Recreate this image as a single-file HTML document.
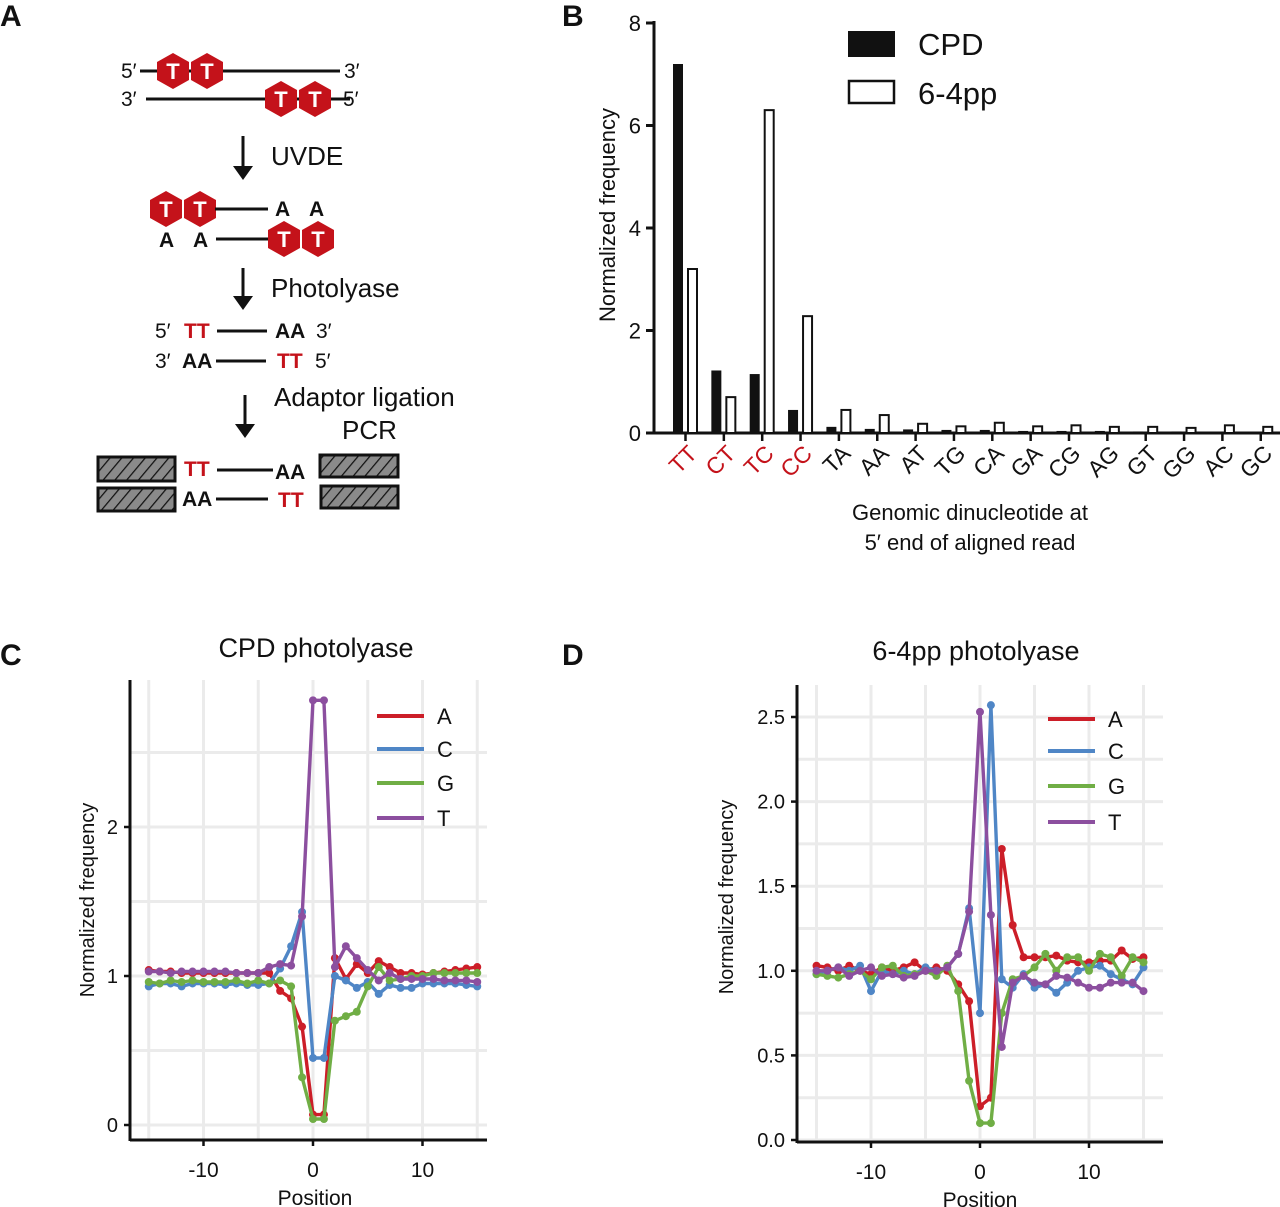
<!DOCTYPE html>
<html><head><meta charset="utf-8"><style>
body{margin:0;background:#fff}
svg{display:block;font-family:"Liberation Sans",Arial,sans-serif}
</style></head><body>
<svg id="fig" width="1280" height="1207" viewBox="0 0 1280 1207" xmlns="http://www.w3.org/2000/svg">
<defs>
<pattern id="hatch" width="9" height="9" patternUnits="userSpaceOnUse" patternTransform="rotate(40)">
<rect width="9" height="9" fill="#8a8a8a"/><line x1="0" y1="0" x2="0" y2="9" stroke="#111" stroke-width="2.5"/>
</pattern>
<symbol id="hex" viewBox="-17 -18 34 36"><polygon points="0,-18 16,-9 16,9 0,18 -16,9 -16,-9" fill="#c4121a"/><text x="0" y="8" text-anchor="middle" font-size="22" font-weight="bold" fill="#fff">T</text></symbol>
</defs>
<g font-weight="bold" font-size="30" fill="#111">
<text x="0" y="26">A</text>
<text x="562" y="26">B</text>
<text x="0" y="665">C</text>
<text x="562" y="665">D</text>
</g>
<g id="panelA" fill="#111" font-size="21">
<line x1="140" y1="71" x2="340" y2="71" stroke="#111" stroke-width="3"/>
<text x="121" y="78">5′</text><text x="344" y="78">3′</text>
<use href="#hex" x="156" y="53" width="34" height="36"/><use href="#hex" x="190" y="53" width="34" height="36"/>
<line x1="146" y1="99" x2="350" y2="99" stroke="#111" stroke-width="3"/>
<text x="121" y="106">3′</text><text x="343" y="106">5′</text>
<use href="#hex" x="264" y="81" width="34" height="36"/><use href="#hex" x="298" y="81" width="34" height="36"/>
<g><line x1="243" y1="136" x2="243" y2="172" stroke="#111" stroke-width="3"/><polygon points="233,166 253,166 243,180" fill="#111"/></g>
<text x="271" y="165" font-size="26">UVDE</text>
<use href="#hex" x="149" y="191" width="34" height="36"/><use href="#hex" x="183" y="191" width="34" height="36"/>
<line x1="215" y1="209" x2="268" y2="209" stroke="#111" stroke-width="3"/>
<text x="275" y="216" font-weight="bold">A</text><text x="309" y="216" font-weight="bold">A</text>
<text x="159" y="247" font-weight="bold">A</text><text x="193" y="247" font-weight="bold">A</text>
<line x1="216" y1="239" x2="270" y2="239" stroke="#111" stroke-width="3"/>
<use href="#hex" x="267" y="221" width="34" height="36"/><use href="#hex" x="301" y="221" width="34" height="36"/>
<g><line x1="243" y1="268" x2="243" y2="302" stroke="#111" stroke-width="3"/><polygon points="233,296 253,296 243,310" fill="#111"/></g>
<text x="271" y="297" font-size="26">Photolyase</text>
<text x="155" y="338">5′</text><text x="184" y="338" font-weight="bold" fill="#c4121a">TT</text>
<line x1="217" y1="331" x2="267" y2="331" stroke="#111" stroke-width="3"/>
<text x="275" y="338" font-weight="bold">AA</text><text x="316" y="338">3′</text>
<text x="155" y="368">3′</text><text x="182" y="368" font-weight="bold">AA</text>
<line x1="216" y1="361" x2="266" y2="361" stroke="#111" stroke-width="3"/>
<text x="277" y="368" font-weight="bold" fill="#c4121a">TT</text><text x="315" y="368">5′</text>
<g><line x1="245" y1="395" x2="245" y2="430" stroke="#111" stroke-width="3"/><polygon points="235,424 255,424 245,438" fill="#111"/></g>
<text x="274" y="406" font-size="26">Adaptor ligation</text>
<text x="342" y="439" font-size="26">PCR</text>
<rect x="98" y="457" width="77" height="24" fill="url(#hatch)" stroke="#111" stroke-width="3"/>
<rect x="320" y="455" width="78" height="22" fill="url(#hatch)" stroke="#111" stroke-width="3"/>
<rect x="98" y="488" width="77" height="23" fill="url(#hatch)" stroke="#111" stroke-width="3"/>
<rect x="321" y="486" width="77" height="22" fill="url(#hatch)" stroke="#111" stroke-width="3"/>
<text x="184" y="476" font-weight="bold" fill="#c4121a">TT</text>
<line x1="217" y1="470" x2="273" y2="470" stroke="#111" stroke-width="3"/>
<text x="275" y="479" font-weight="bold">AA</text>
<text x="182" y="506" font-weight="bold">AA</text>
<line x1="216" y1="499" x2="268" y2="499" stroke="#111" stroke-width="3"/>
<text x="278" y="507" font-weight="bold" fill="#c4121a">TT</text>
</g>
<g id="panelB"></g>
<g id="panelC"></g>
<g id="panelD"></g>
</svg>
<script>
const NS = 'http://www.w3.org/2000/svg';
const dinucs = ['TT','CT','TC','CC','TA','AA','AT','TG','CA','GA','CG','AG','GT','GG','AC','GC'];
const cpdVals = [7.2,1.22,1.15,0.45,0.12,0.08,0.07,0.06,0.06,0.04,0.04,0.04,0.03,0.03,0.02,0.02];
const pp64Vals = [3.2,0.7,6.3,2.28,0.45,0.35,0.18,0.13,0.2,0.13,0.15,0.12,0.12,0.1,0.15,0.12];
const bTicks = [0,2,4,6,8];
const positions = [-15,-14,-13,-12,-11,-10,-9,-8,-7,-6,-5,-4,-3,-2,-1,0,1,2,3,4,5,6,7,8,9,10,11,12,13,14,15];
const cpdA = [1.04,1.03,1.03,1.02,1.02,1.02,1.02,1.02,1.02,1.02,1.02,1.02,0.9,0.85,0.66,0.07,0.07,1.12,0.98,1.08,1.02,1.1,1.06,1.02,1.02,1.01,1.02,1.03,1.04,1.05,1.06];
const cpdC = [0.93,0.95,0.95,0.93,0.95,0.95,0.95,0.94,0.95,0.94,0.94,0.95,1.05,1.2,1.43,0.45,0.45,1.0,0.97,0.92,0.96,0.88,0.94,0.92,0.92,0.95,0.95,0.95,0.95,0.94,0.93];
const cpdG = [0.96,0.95,0.97,0.96,0.97,0.96,0.96,0.96,0.97,0.95,0.97,0.95,0.97,0.93,0.32,0.04,0.04,0.7,0.73,0.76,0.93,1.06,0.97,0.98,1.0,1.0,1.02,1.02,1.02,1.02,1.02];
const cpdT = [1.03,1.03,1.02,1.03,1.03,1.03,1.03,1.03,1.02,1.02,1.02,1.06,1.08,1.07,1.4,2.85,2.85,1.06,1.2,1.12,1.04,0.97,1.02,0.98,0.98,0.98,0.98,0.97,0.97,0.97,0.96];
const cpdTicks = [0,1,2];
const ppA = [1.03,1.02,1.0,1.03,1.0,0.98,1.02,1.0,1.02,1.05,1.0,1.02,1.0,0.92,0.82,0.2,0.25,1.72,1.27,1.08,1.08,1.08,1.09,1.06,1.05,1.05,1.06,1.06,1.12,1.07,1.08];
const ppC = [0.98,1.0,1.02,1.0,1.03,0.88,1.0,0.98,1.0,0.98,1.02,1.0,1.02,1.1,1.37,0.75,2.57,0.95,0.9,0.98,0.9,0.92,0.87,0.93,1.0,1.02,1.03,0.98,0.95,0.92,1.02];
const ppG = [0.98,0.97,0.96,0.98,1.0,0.95,1.02,1.03,0.97,0.98,1.0,0.97,1.03,0.88,0.35,0.1,0.1,0.75,0.95,0.97,1.02,1.1,1.0,1.08,1.08,1.0,1.1,1.08,0.97,1.08,1.05];
const ppT = [1.0,1.0,1.02,0.97,1.0,1.02,0.97,0.98,0.96,0.97,1.0,1.0,1.02,1.1,1.35,2.53,1.33,0.55,0.93,0.97,0.93,0.92,0.97,0.96,0.93,0.9,0.9,0.93,0.93,0.93,0.88];
const ppTicks = [0,0.5,1,1.5,2,2.5];
const ppTickLabels = ['0.0','0.5','1.0','1.5','2.0','2.5'];
const xTicks = [-10,0,10];
const seriesNames = ['A','C','G','T'];
const seriesColors = ['#cc1e28','#4f86c6','#70ae45','#8c4f9f'];

function el(tag, attrs, parent, text){
  const e = document.createElementNS(NS, tag);
  for (const k in attrs) e.setAttribute(k, attrs[k]);
  if (text !== undefined) e.textContent = text;
  parent.appendChild(e);
  return e;
}

(function(){
  const g = document.getElementById('panelB');
  const y = v => 433 - v * 51.25;
  const xc = i => 685.5 + i * 38.35;
  el('line',{x1:654,y1:21,x2:654,y2:434,stroke:'#111','stroke-width':3},g);
  el('line',{x1:653,y1:433,x2:1280,y2:433,stroke:'#111','stroke-width':3},g);
  bTicks.forEach(t=>{
    el('line',{x1:646,y1:y(t),x2:654,y2:y(t),stroke:'#111','stroke-width':3},g);
    const tl = el('text',{x:641,y:y(t)+8,'text-anchor':'end','font-size':22,fill:'#111'},g,String(t));
    
    
  });
  const yl = el('text',{x:0,y:0,transform:'translate(615,215) rotate(-90)','text-anchor':'middle','font-size':22,fill:'#111'},g,'Normalized frequency');
  
  
  dinucs.forEach((d,i)=>{
    const c = xc(i);
    const b1 = el('rect',{x:c-12.5,y:y(cpdVals[i]),width:10,height:Math.max(433-y(cpdVals[i]),0.5),fill:'#111'},g);
    
    
    const b2 = el('rect',{x:c+2.5,y:y(pp64Vals[i]),width:9,height:Math.max(433-y(pp64Vals[i]),0.5),fill:'#fff',stroke:'#111','stroke-width':2},g);
    
    
    el('line',{x1:c,y1:433,x2:c,y2:441,stroke:'#111','stroke-width':2.5},g);
    const red = i < 4;
    const lab = el('text',{x:0,y:0,transform:`translate(${c+13},${455}) rotate(-45)`,'text-anchor':'end','font-size':23,fill:red?'#c4121a':'#111'},g,d);
    
    
  });
  const t1 = el('text',{x:970,y:520,'text-anchor':'middle','font-size':22,fill:'#111'},g,'Genomic dinucleotide at');
  
  
  const t2 = el('text',{x:970,y:550,'text-anchor':'middle','font-size':22,fill:'#111'},g,'5′ end of aligned read');
  
  
  const lg1 = el('rect',{x:848,y:31,width:47,height:26,fill:'#111'},g);
  
  
  const lt1 = el('text',{x:918,y:55,'font-size':31,fill:'#111'},g,'CPD');
  
  
  const lg2 = el('rect',{x:849,y:81,width:45,height:22,fill:'#fff',stroke:'#111','stroke-width':2.5},g);
  
  
  const lt2 = el('text',{x:918,y:104,'font-size':31,fill:'#111'},g,'6-4pp');
  
  
})();

function linePanel(cfg){
  const g = document.getElementById(cfg.id);
  const X = v => cfg.x0 + v * cfg.xs;
  const Y = v => cfg.y0 - v * cfg.ys;
  cfg.gridY.forEach(v=>el('line',{x1:cfg.left,y1:Y(v),x2:cfg.right,y2:Y(v),stroke:'#ebebeb','stroke-width':3},g));
  [-15,-10,-5,0,5,10,15].forEach(v=>el('line',{x1:X(v),y1:cfg.top,x2:X(v),y2:cfg.bottom,stroke:'#ebebeb','stroke-width':3},g));
  el('line',{x1:cfg.left,y1:cfg.top,x2:cfg.left,y2:cfg.bottom+1,stroke:'#111','stroke-width':3},g);
  el('line',{x1:cfg.left,y1:cfg.bottom,x2:cfg.right,y2:cfg.bottom,stroke:'#111','stroke-width':3},g);
  cfg.yTicks.forEach((t,i)=>{
    el('line',{x1:cfg.left-6,y1:Y(t),x2:cfg.left,y2:Y(t),stroke:'#111','stroke-width':2.5},g);
    const tl = el('text',{x:cfg.left-12,y:Y(t)+7,'text-anchor':'end','font-size':20,fill:'#111'},g,cfg.yLabels[i]);
    
    
  });
  xTicks.forEach(t=>{
    el('line',{x1:X(t),y1:cfg.bottom,x2:X(t),y2:cfg.bottom+6,stroke:'#111','stroke-width':2.5},g);
    const tl = el('text',{x:X(t),y:cfg.bottom+37,'text-anchor':'middle','font-size':21,fill:'#111'},g,String(t));
    
    
  });
  const xt = el('text',{x:cfg.xTitleX,y:cfg.bottom+65,'text-anchor':'middle','font-size':21,fill:'#111'},g,'Position');
  
  
  const yt = el('text',{x:0,y:0,transform:`translate(${cfg.yTitleX},${cfg.yTitleY}) rotate(-90)`,'text-anchor':'middle','font-size':20,fill:'#111'},g,'Normalized frequency');
  
  
  const tt = el('text',{x:cfg.titleX,y:cfg.titleY,'text-anchor':'middle','font-size':27,fill:'#111'},g,cfg.title);
  
  
  cfg.series.forEach((s,si)=>{
    const col = seriesColors[si];
    const pts = positions.map((p,i)=>X(p).toFixed(1)+','+Y(s[i]).toFixed(1)).join(' ');
    const pl = el('polyline',{points:pts,fill:'none',stroke:col,'stroke-width':3.4,'stroke-linejoin':'round'},g);
    
    
    positions.forEach((p,i)=>{
      const c = el('circle',{cx:X(p),cy:Y(s[i]),r:4,fill:col},g);
      
      
    });
    const ly = cfg.legY[si];
    const ll = el('line',{x1:cfg.legX,y1:ly,x2:cfg.legX+47,y2:ly,stroke:col,'stroke-width':4},g);
    
    
    const lt = el('text',{x:cfg.legX+60,y:ly+8,'font-size':22,fill:'#111'},g,seriesNames[si]);
    
    
  });
}
linePanel({id:'panelC',x0:313,xs:10.95,y0:1125,ys:149,left:130,right:487,top:680,bottom:1140,
  gridY:[0,0.5,1,1.5,2,2.5],yTicks:cpdTicks,yLabels:['0','1','2'],
  series:[cpdA,cpdC,cpdG,cpdT],legX:377,legY:[716,749,783,818],
  title:'CPD photolyase',titleX:316,titleY:657,xTitleX:315,yTitleX:94,yTitleY:900});
linePanel({id:'panelD',x0:980,xs:10.9,y0:1140,ys:169.2,left:797,right:1163,top:685,bottom:1142,
  gridY:[0,0.25,0.5,0.75,1,1.25,1.5,1.75,2,2.25,2.5],yTicks:ppTicks,yLabels:ppTickLabels,
  series:[ppA,ppC,ppG,ppT],legX:1048,legY:[719,751,786,822],
  title:'6-4pp photolyase',titleX:976,titleY:660,xTitleX:980,yTitleX:733,yTitleY:897});
</script>
</body></html>
